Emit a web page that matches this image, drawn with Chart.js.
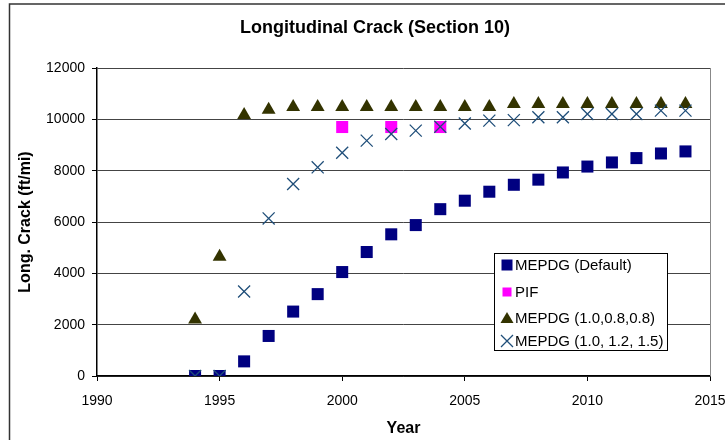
<!DOCTYPE html>
<html>
<head>
<meta charset="utf-8">
<script src="https://cdn.jsdelivr.net/npm/chart.js@4/dist/chart.umd.min.js"></script>
<style>
  html, body { margin:0; padding:0; background:#fff; }
  #wrap { width:725px; height:440px; }
</style>
</head>
<body>
<div id="wrap"><canvas id="ch-crack" width="725" height="440"></canvas></div>
<script>
// ── data ─────────────────────────────────────────────────────────────────────
const YEARS      = [1994,1995,1996,1997,1998,1999,2000,2001,2002,2003,2004,2005,2006,2007,2008,2009,2010,2011,2012,2013,2014];
const DEFAULT    = [0,0,570,1560,2510,3190,4050,4830,5520,5880,6500,6830,7180,7450,7650,7930,8160,8320,8490,8670,8750];
const PIF_YEARS  = [2000,2002,2004];
const PIF        = [9700,9700,9700];
const CAL_LOW    = [2200,4650,10170,10370,10480,10480,10480,10480,10480,10480,10480,10480,10480,10600,10600,10600,10600,10600,10600,10600,10600];
const CAL_HIGH   = [0,0,3290,6140,7480,8130,8700,9170,9430,9560,9710,9840,9950,9970,10080,10080,10210,10210,10210,10340,10340];
const X_TICKS    = [1990,1995,2000,2005,2010,2015];
const Y_TICKS    = [0,2000,4000,6000,8000,10000,12000];

const LABELS = ['MEPDG (Default)', 'PIF', 'MEPDG (1.0,0.8,0.8)', 'MEPDG (1.0, 1.2, 1.5)'];
const FONT = 'Arial, "Liberation Sans", sans-serif';

const pts = (xs, ys) => xs.map((x, i) => ({ x, y: ys[i] }));

// title, frame, plot border and the boxed legend
const decor = {
  id: 'decor',
  afterDraw(chart) {
    const { ctx, chartArea: a } = chart;
    ctx.save();
    // outer frame (only top/left visible in the reference)
    ctx.strokeStyle = '#333'; ctx.lineWidth = 1.5;
    ctx.beginPath(); ctx.moveTo(9.5, 440); ctx.lineTo(9.5, 4); ctx.lineTo(725, 4); ctx.stroke();
    // plot area right edge
    ctx.strokeStyle = '#888'; ctx.lineWidth = 1;
    ctx.beginPath(); ctx.moveTo(a.right + 0.5, a.top); ctx.lineTo(a.right + 0.5, a.bottom); ctx.stroke();
    // title
    ctx.fillStyle = '#000'; ctx.font = 'bold 18px ' + FONT;
    ctx.textAlign = 'center'; ctx.textBaseline = 'middle';
    ctx.fillText('Longitudinal Crack (Section 10)', 375, 28);

    // legend
    const bx = a.right - 216, by = a.top + 185, bw = 173, bh = 97;
    ctx.fillStyle = '#fff'; ctx.fillRect(bx, by, bw, bh);
    ctx.strokeStyle = '#000'; ctx.lineWidth = 1;
    ctx.strokeRect(bx + 0.5, by + 0.5, bw, bh);
    ctx.font = '15px ' + FONT; ctx.textAlign = 'left'; ctx.fillStyle = '#000';
    const rows = [12, 39, 65, 88];
    rows.forEach((dy, i) => {
      const cx = bx + 13, cy = by + dy;
      if (i === 0) { ctx.fillStyle = '#000080'; ctx.fillRect(cx - 5.5, cy - 5.5, 11, 11); }
      if (i === 1) { ctx.fillStyle = '#FF00FF'; ctx.fillRect(cx - 4.5, cy - 4.5, 9, 9); }
      if (i === 2) {
        ctx.fillStyle = '#333300';
        ctx.beginPath(); ctx.moveTo(cx, cy - 6); ctx.lineTo(cx + 6.5, cy + 5); ctx.lineTo(cx - 6.5, cy + 5); ctx.closePath(); ctx.fill();
      }
      if (i === 3) {
        ctx.strokeStyle = '#1F4E79'; ctx.lineWidth = 1.3;
        ctx.beginPath();
        ctx.moveTo(cx - 6, cy - 6); ctx.lineTo(cx + 6, cy + 6);
        ctx.moveTo(cx + 6, cy - 6); ctx.lineTo(cx - 6, cy + 6);
        ctx.stroke();
      }
      ctx.fillStyle = '#000';
      ctx.fillText(LABELS[i], bx + 21, cy + 1);
    });
    ctx.restore();
  }
};

new Chart(document.getElementById('ch-crack').getContext('2d'), {
  type: 'scatter',
  data: {
    datasets: [
      { label: LABELS[0], data: pts(YEARS, DEFAULT), pointStyle: 'rect', pointRadius: 8.5, pointHoverRadius: 8.5,
        backgroundColor: '#000080', borderColor: '#000080', borderWidth: 0, order: 4 },
      { label: LABELS[1], data: pts(PIF_YEARS, PIF), pointStyle: 'rect', pointRadius: 8.5, pointHoverRadius: 8.5,
        backgroundColor: '#FF00FF', borderColor: '#FF00FF', borderWidth: 0, order: 3 },
      { label: LABELS[2], data: pts(YEARS, CAL_LOW), pointStyle: 'triangle', pointRadius: 8, pointHoverRadius: 8,
        backgroundColor: '#333300', borderColor: '#333300', borderWidth: 0, order: 2 },
      { label: LABELS[3], data: pts(YEARS, CAL_HIGH), pointStyle: 'crossRot', pointRadius: 8.5, pointHoverRadius: 8.5,
        backgroundColor: '#1F4E79', borderColor: '#1F4E79', borderWidth: 1.3, order: 1 },
    ]
  },
  options: {
    responsive: false, animation: false, devicePixelRatio: 1,
    layout: { padding: { top: 68, right: 15, left: 0, bottom: 0 } },
    plugins: { legend: { display: false }, title: { display: false }, tooltip: { enabled: false } },
    scales: {
      x: {
        type: 'linear', min: 1990, max: 2015,
        afterBuildTicks: s => { s.ticks = X_TICKS.map(v => ({ value: v })); },
        afterFit: s => { s.height = 64; s.paddingLeft = 0; s.paddingRight = 0; },
        grid: { drawOnChartArea: false, drawTicks: true, tickLength: 5, color: '#000' },
        border: { color: '#000', width: 1.5 },
        ticks: { color: '#000', font: { family: FONT, size: 14 }, padding: 12, maxRotation: 0, callback: v => String(v) },
        title: { display: true, text: 'Year', color: '#000', font: { family: FONT, size: 16, weight: 'bold' }, padding: { top: 0, bottom: 2 } }
      },
      y: {
        min: 0, max: 12000,
        afterBuildTicks: s => { s.ticks = Y_TICKS.map(v => ({ value: v })); },
        afterFit: s => { s.width = 97; s.paddingTop = 0; s.paddingBottom = 0; },
        grid: { color: '#444', lineWidth: 1, drawTicks: true, tickLength: 5, tickColor: '#000' },
        border: { color: '#000', width: 1.5 },
        ticks: { color: '#000', font: { family: FONT, size: 14 }, padding: 7, callback: v => String(v) },
        title: { display: true, text: 'Long. Crack (ft/mi)', color: '#000', font: { family: FONT, size: 16, weight: 'bold' }, padding: { top: 16, bottom: 0 } }
      }
    }
  },
  plugins: [decor]
});
</script>
</body>
</html>
